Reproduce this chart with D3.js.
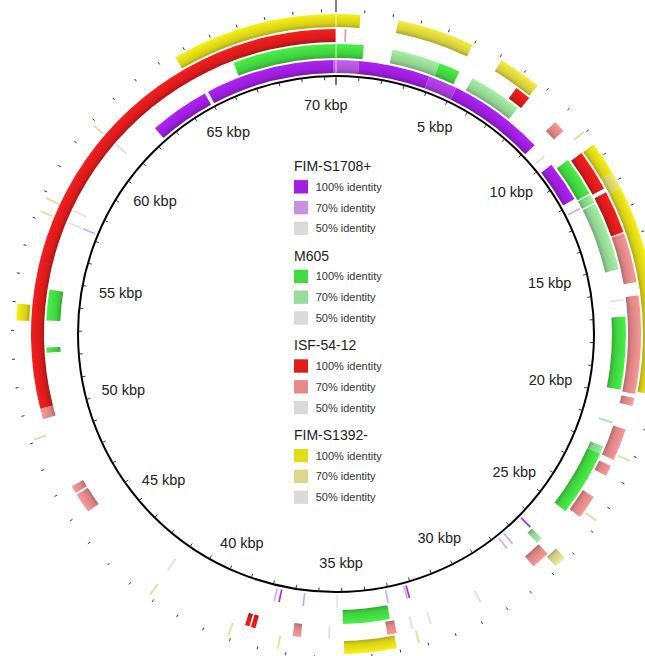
<!DOCTYPE html>
<html><head><meta charset="utf-8">
<script src="https://cdn.jsdelivr.net/npm/d3@7"></script>
<style>body{margin:0;background:#fff}svg{display:block}</style></head>
<body><svg id="chart" width="645" height="656"></svg>
<script>
// ---------- data ----------
const genomeLength = 70.5; // kbp
const tickValues = [5, 10, 15, 20, 25, 30, 35, 40, 45, 50, 55, 60, 65, 70];
const tickLabels = ["5 kbp","10 kbp","15 kbp","20 kbp","25 kbp","30 kbp","35 kbp","40 kbp","45 kbp","50 kbp","55 kbp","60 kbp","65 kbp","70 kbp"];
const genomes = ["FIM-S1708+", "M605", "ISF-54-12", "FIM-S1392-"];
const identityLevels = [100, 70, 50];
const identityLabels = ["100% identity", "70% identity", "50% identity"];

// blocks: [start kbp, end kbp, identity %]
const purpleBlocks = [[62.4,64.9,100],[65.05,70.4,100],[70.4,70.5,85],[0,0.95,85],[0.95,3.9,100],[3.9,5.1,92],[5.1,9.1,100],[10.15,11.85,100]];
const greenBlocks  = [[66.45,70.5,100],[0,1.08,100],[2.2,4.1,70],[4.1,4.93,100],[5.5,7.6,70],[10.4,11.95,100],[12.0,12.35,75],[12.4,15.1,70],[16.95,19.8,100],[22.1,22.4,75],[22.4,25.0,100],[26.4,26.65,70],[33.15,34.98,100],[52.15,52.35,100],[53.4,54.6,100]];
const redBlocks    = [[49.7,50.1,70],[50.1,70.5,100],[7.1,7.7,100],[9.0,9.45,70],[10.5,12.05,100],[12.2,13.8,100],[13.85,15.7,70],[16.2,19.85,70],[20.0,20.3,70],[21.2,22.4,70],[22.65,23.05,70],[23.95,24.85,70],[26.65,27.35,70],[33.0,33.35,70],[36.55,36.85,70],[38.25,38.42,100],[38.48,38.65,100],[45.9,46.65,70],[46.72,47.0,70]];
const yellowBlocks = [[64.6,70.5,100],[0,0.86,100],[2.2,4.95,90],[6.1,7.65,90],[10.5,11.7,100],[11.7,12.3,80],[12.3,19.75,100],[26.3,26.75,70],[33.1,34.96,100],[53.35,53.95,100]];

// tiny hits: [position kbp, identity %]
const purpleThin = [[9.7,50],[12.3,70],[26.4,100],[27.4,70],[27.7,70],[32.2,100],[32.3,70],[33.1,70],[35.2,50],[36.6,70],[37.6,100],[37.8,70],[57.3,70]];
const greenThin  = [[16.3,50],[21.1,70],[42.2,50],[57.3,50],[57.8,50],[60.85,50]];
const redThin    = [[0.35,70],[29.7,50],[31.7,50],[32.4,50],[35.5,50]];
const yellowThin = [[9.95,70],[22.2,70],[24.6,70],[32.3,70],[37.3,70],[39.1,70],[42.2,70],[49.1,70],[57.3,70],[57.8,70],[60.85,70]];

const fullColors  = ["#a11ee2", "#42dc42", "#e21b1b", "#e3dc16"];
const lightColors = ["#ca8fe2", "#98dc98", "#e68a8a", "#dcd78c"];
const greyColor = "#dadada";

// ---------- layout ----------
const W = 645, H = 656, cx = 336, cy = 334;
const circleR = 258;
const rings = [[261,274],[276,290],[292,305],[307,320]];
const blocks = [purpleBlocks, greenBlocks, redBlocks, yellowBlocks];
const thin = [purpleThin, greenThin, redThin, yellowThin];
const FONT = "Liberation Sans, Arial, sans-serif";

const svg = d3.select("#chart");
svg.append("rect").attr("width", W).attr("height", H).attr("fill", "#fff");
const defs = svg.append("defs");
const g = svg.append("g").attr("transform", `translate(${cx},${cy})`);

const angle = d3.scaleLinear().domain([0, genomeLength]).range([0, 2 * Math.PI]);

function colorFor(ring, level) {
  if (level < 70) return greyColor;
  return d3.interpolateRgb(lightColors[ring], fullColors[ring])((level - 70) / 30);
}

const gradCache = {};
function gradFor(ring, level) {
  const key = `g${ring}_${level}`;
  if (gradCache[key]) return gradCache[key];
  const [r0, r1] = rings[ring];
  const base = d3.color(colorFor(ring, level));
  const f0 = r0 / r1;
  const grad = defs.append("radialGradient").attr("id", key)
    .attr("gradientUnits", "userSpaceOnUse").attr("cx", 0).attr("cy", 0).attr("r", r1);
  grad.append("stop").attr("offset", f0).attr("stop-color", base.darker(0.7));
  grad.append("stop").attr("offset", f0 + (1 - f0) * 0.3).attr("stop-color", base.darker(0.15));
  grad.append("stop").attr("offset", f0 + (1 - f0) * 0.55).attr("stop-color", base);
  grad.append("stop").attr("offset", 1).attr("stop-color", base.brighter(0.25));
  gradCache[key] = `url(#${key})`;
  return gradCache[key];
}

const arc = d3.arc();

blocks.forEach((list, ring) => {
  const [r0, r1] = rings[ring];
  g.append("g").selectAll("path").data(list).join("path")
    .attr("d", d => arc({innerRadius: r0, outerRadius: r1, startAngle: angle(d[0]), endAngle: angle(d[1])}))
    .attr("fill", d => gradFor(ring, d[2]));
});

thin.forEach((list, ring) => {
  const [r0, r1] = rings[ring];
  g.append("g").selectAll("path").data(list).join("path")
    .attr("d", d => arc({innerRadius: r0, outerRadius: r1, startAngle: angle(d[0] - 0.035), endAngle: angle(d[0] + 0.035)}))
    .attr("fill", d => colorFor(ring, d[1]))
    .attr("opacity", d => d[1] >= 100 ? 0.95 : 0.8);
});

// zero line through rings
g.append("line").attr("x1", 0).attr("x2", 0).attr("y1", -rings[0][0]).attr("y2", -rings[3][1])
  .attr("stroke", "#fff").attr("stroke-width", 1).attr("opacity", 0.75);

// backbone circle
g.append("circle").attr("r", circleR).attr("fill", "none").attr("stroke", "#000").attr("stroke-width", 2);

// ticks every kbp
const kbTicks = d3.range(0, Math.floor(genomeLength) + 1);
function radial(a, r) { return [r * Math.sin(a), -r * Math.cos(a)]; }
g.append("g").selectAll("line").data(kbTicks).join("line")
  .each(function(d) {
    const a = angle(d);
    const [x1, y1] = radial(a, d === 0 ? 249 : 254);
    const [x2, y2] = radial(a, circleR);
    d3.select(this).attr("x1", x1).attr("y1", y1).attr("x2", x2).attr("y2", y2);
  })
  .attr("stroke", "#222").attr("stroke-width", d => d === 0 ? 1.2 : 0.9);
g.append("g").selectAll("line").data(kbTicks).join("line")
  .each(function(d) {
    const a = angle(d);
    const [x1, y1] = radial(a, 322);
    const [x2, y2] = radial(a, d === 0 ? 334 : 325);
    d3.select(this).attr("x1", x1).attr("y1", y1).attr("x2", x2).attr("y2", y2);
  })
  .attr("stroke", "#333").attr("stroke-width", d => d === 0 ? 1.2 : 1);

// tick labels: placed along tick angle, pulled inward more at the sides (text width)
function labelR(a) { return 229.5 - 11 * Math.pow(Math.sin(a), 4); }
g.append("g").selectAll("text").data(tickValues).join("text")
  .attr("x", d => labelR(angle(d)) * Math.sin(angle(d)))
  .attr("y", d => -labelR(angle(d)) * Math.cos(angle(d)))
  .attr("text-anchor", "middle").attr("dominant-baseline", "central")
  .attr("font-family", FONT).attr("font-size", 14.5).attr("fill", "#222")
  .text((d, i) => tickLabels[i]);

// legend
const legend = svg.append("g").attr("transform", "translate(294,166)");
const groupStep = 89.6, rowStep = 20.8;
genomes.forEach((name, gi) => {
  const lg = legend.append("g").attr("transform", `translate(0,${gi * groupStep})`);
  lg.append("text").attr("x", 0).attr("y", 0).attr("dominant-baseline", "central")
    .attr("font-family", FONT).attr("font-size", 14).attr("fill", "#222")
    .text(name);
  identityLevels.forEach((lvl, li) => {
    const y = 20.8 + li * rowStep;
    lg.append("rect").attr("x", 0).attr("y", y - 6.7).attr("width", 14).attr("height", 13.4)
      .attr("fill", colorFor(gi, lvl));
    lg.append("text").attr("x", 21.7).attr("y", y).attr("dominant-baseline", "central")
      .attr("font-family", FONT).attr("font-size", 11).attr("fill", "#333")
      .text(identityLabels[li]);
  });
});
</script></body></html>
